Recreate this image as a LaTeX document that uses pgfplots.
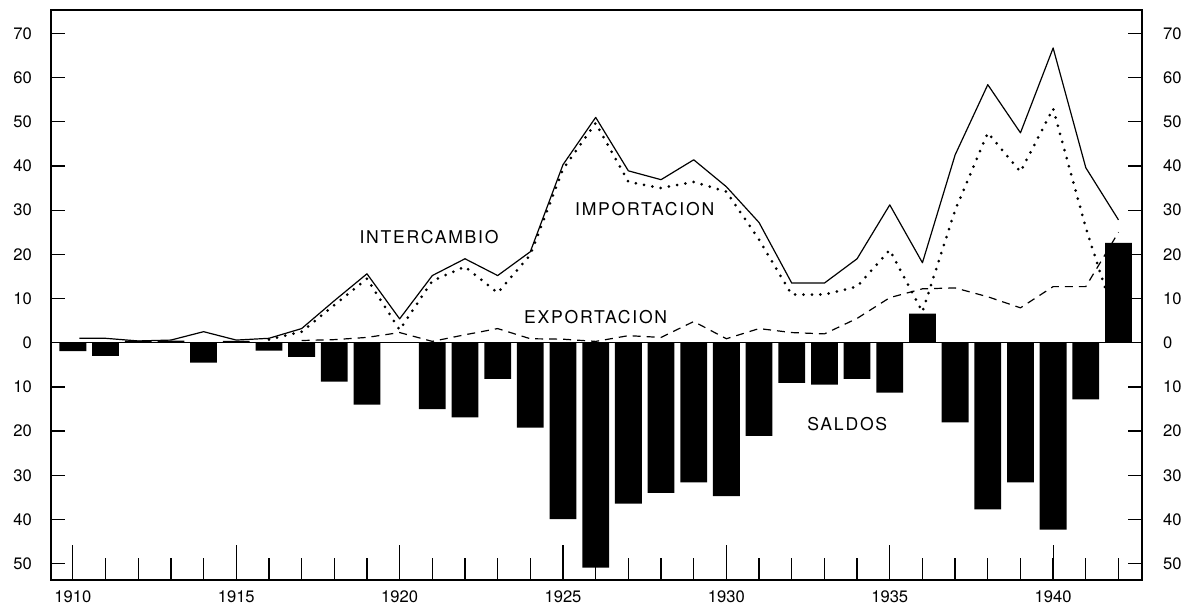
\documentclass[border=0pt]{standalone}
\usepackage{fontspec}
\setmainfont{TeX Gyre Heros}
\newfontfamily\lblfont[LetterSpace=10]{TeX Gyre Heros}
\usepackage{pgfplots}
\pgfplotsset{compat=1.18}
\tikzset{lbl/.style={font=\lblfont\fontsize{8.8}{10}\selectfont}}

\begin{document}
\begin{tikzpicture}
\begin{axis}[
    name=main,
    scale only axis, width=545.5pt, height=285pt,
    xmin=1909.33, xmax=1942.72, ymin=-53.7, ymax=75.3,
    tick align=inside,
    axis line style={line width=0.8pt},
    tick style={black, line width=0.6pt},
    ticklabel style={font=\fontsize{8.3}{10}\selectfont},
    % x: yearly ticks, long ticks every five years
    xtick={1910,1915,...,1940},
    xticklabels={1910,1915,1920,1925,1930,1935,1940},
    xticklabel style={yshift=-2pt},
    xtick pos=bottom,
    minor xtick={1911,1912,...,1942},
    minor tick length=11pt,
    extra x ticks={1910,1915,...,1940},
    extra x tick labels={},
    extra x tick style={major tick length=17.5pt},
    % y: absolute values on both sides
    ytick={-50,-40,...,70},
    yticklabels={50,40,30,20,10,0,10,20,30,40,50,60,70},
    major tick length=7pt,
    yticklabel style={xshift=-6pt},
    extra y ticks={-50,-40,...,70},
    extra y tick labels={50,40,30,20,10,0,10,20,30,40,50,60,70},
    extra y tick style={yticklabel pos=right, yticklabel style={xshift=13pt}},
]
% intercambio
\addplot[black, line width=0.6pt, line join=round] coordinates {
 (1910.2,1) (1911,1) (1912,0.4) (1913,0.6) (1914,2.5) (1915,0.6) (1916,1)
 (1917,3.2) (1918,9.5) (1919,15.6) (1920,5.4) (1921,15.2) (1922,19)
 (1923,15.2) (1924,20.6) (1925,40.3) (1926,51) (1927,38.9) (1928,36.9)
 (1929,41.4) (1930,35.3) (1931,27.2) (1932,13.5) (1933,13.5) (1934,19)
 (1935,31.2) (1936,18.1) (1937,42.5) (1938,58.4) (1939,47.5) (1940,66.7)
 (1941,39.6) (1942,27.8)
};
% importacion
\addplot[black, line width=1.5pt, line cap=round, dash pattern=on 0pt off 4.2pt] coordinates {
 (1916,0.7) (1917,2.5) (1918,8.5) (1919,14.5) (1920,2.9) (1921,14)
 (1922,17.2) (1923,11.3) (1924,19.9) (1925,39.3) (1926,49.7) (1927,36.4)
 (1928,35) (1929,36.4) (1930,34.2) (1931,23.3) (1932,10.9) (1933,10.9)
 (1934,12.7) (1935,21) (1936,7) (1937,30) (1938,47.5) (1939,38.7)
 (1940,53) (1941,26) (1942,3)
};
% exportacion
\addplot[black, line width=0.6pt, dash pattern=on 4pt off 3pt] coordinates {
 (1917,0.5) (1918,0.7) (1919,1.2) (1920,2.3) (1921,0.3) (1922,1.8)
 (1923,3.2) (1924,0.9) (1925,0.8) (1926,0.3) (1927,1.6) (1928,1.2)
 (1929,4.8) (1930,0.9) (1931,3.2) (1932,2.3) (1933,2) (1934,5.5)
 (1935,10.2) (1936,12.2) (1937,12.4) (1938,10.4) (1939,7.9) (1940,12.7)
 (1941,12.7) (1942,25)
};
% zero line
\addplot[black, line width=0.7pt] coordinates {(1909.33,0) (1942.72,0)};
% saldos
\addplot[ybar, bar width=0.82, bar shift=0pt, fill=black, draw=none] coordinates {
 (1910,-1.9) (1911,-3) (1912,0.5) (1913,0.5) (1914,-4.5) (1915,0.4)
 (1916,-1.8) (1917,-3.2) (1918,-8.8) (1919,-14) (1920,0) (1921,-15)
 (1922,-16.9) (1923,-8.2) (1924,-19.2) (1925,-39.9) (1926,-50.9)
 (1927,-36.4) (1928,-34) (1929,-31.6) (1930,-34.7) (1931,-21.1)
 (1932,-9.1) (1933,-9.5) (1934,-8.2) (1935,-11.3) (1936,6.6)
 (1937,-18) (1938,-37.7) (1939,-31.6) (1940,-42.3) (1941,-12.8) (1942,22.6)
};
\node[lbl] at (axis cs:1920.9,24) {INTERCAMBIO};
\node[lbl] at (axis cs:1927.5,30.3) {IMPORTACION};
\node[lbl] at (axis cs:1926.0,5.7) {EXPORTACION};
\node[lbl] at (axis cs:1933.7,-18.3) {SALDOS};
\end{axis}
% the page: fixed margins round the axis box
\pgfresetboundingbox
\path (main.south west) ++(-25.5pt,-13.5pt) coordinate (bl);
\path (main.north east) ++(21pt,5pt) coordinate (tr);
\path (bl) rectangle (tr);
\end{tikzpicture}
\end{document}
